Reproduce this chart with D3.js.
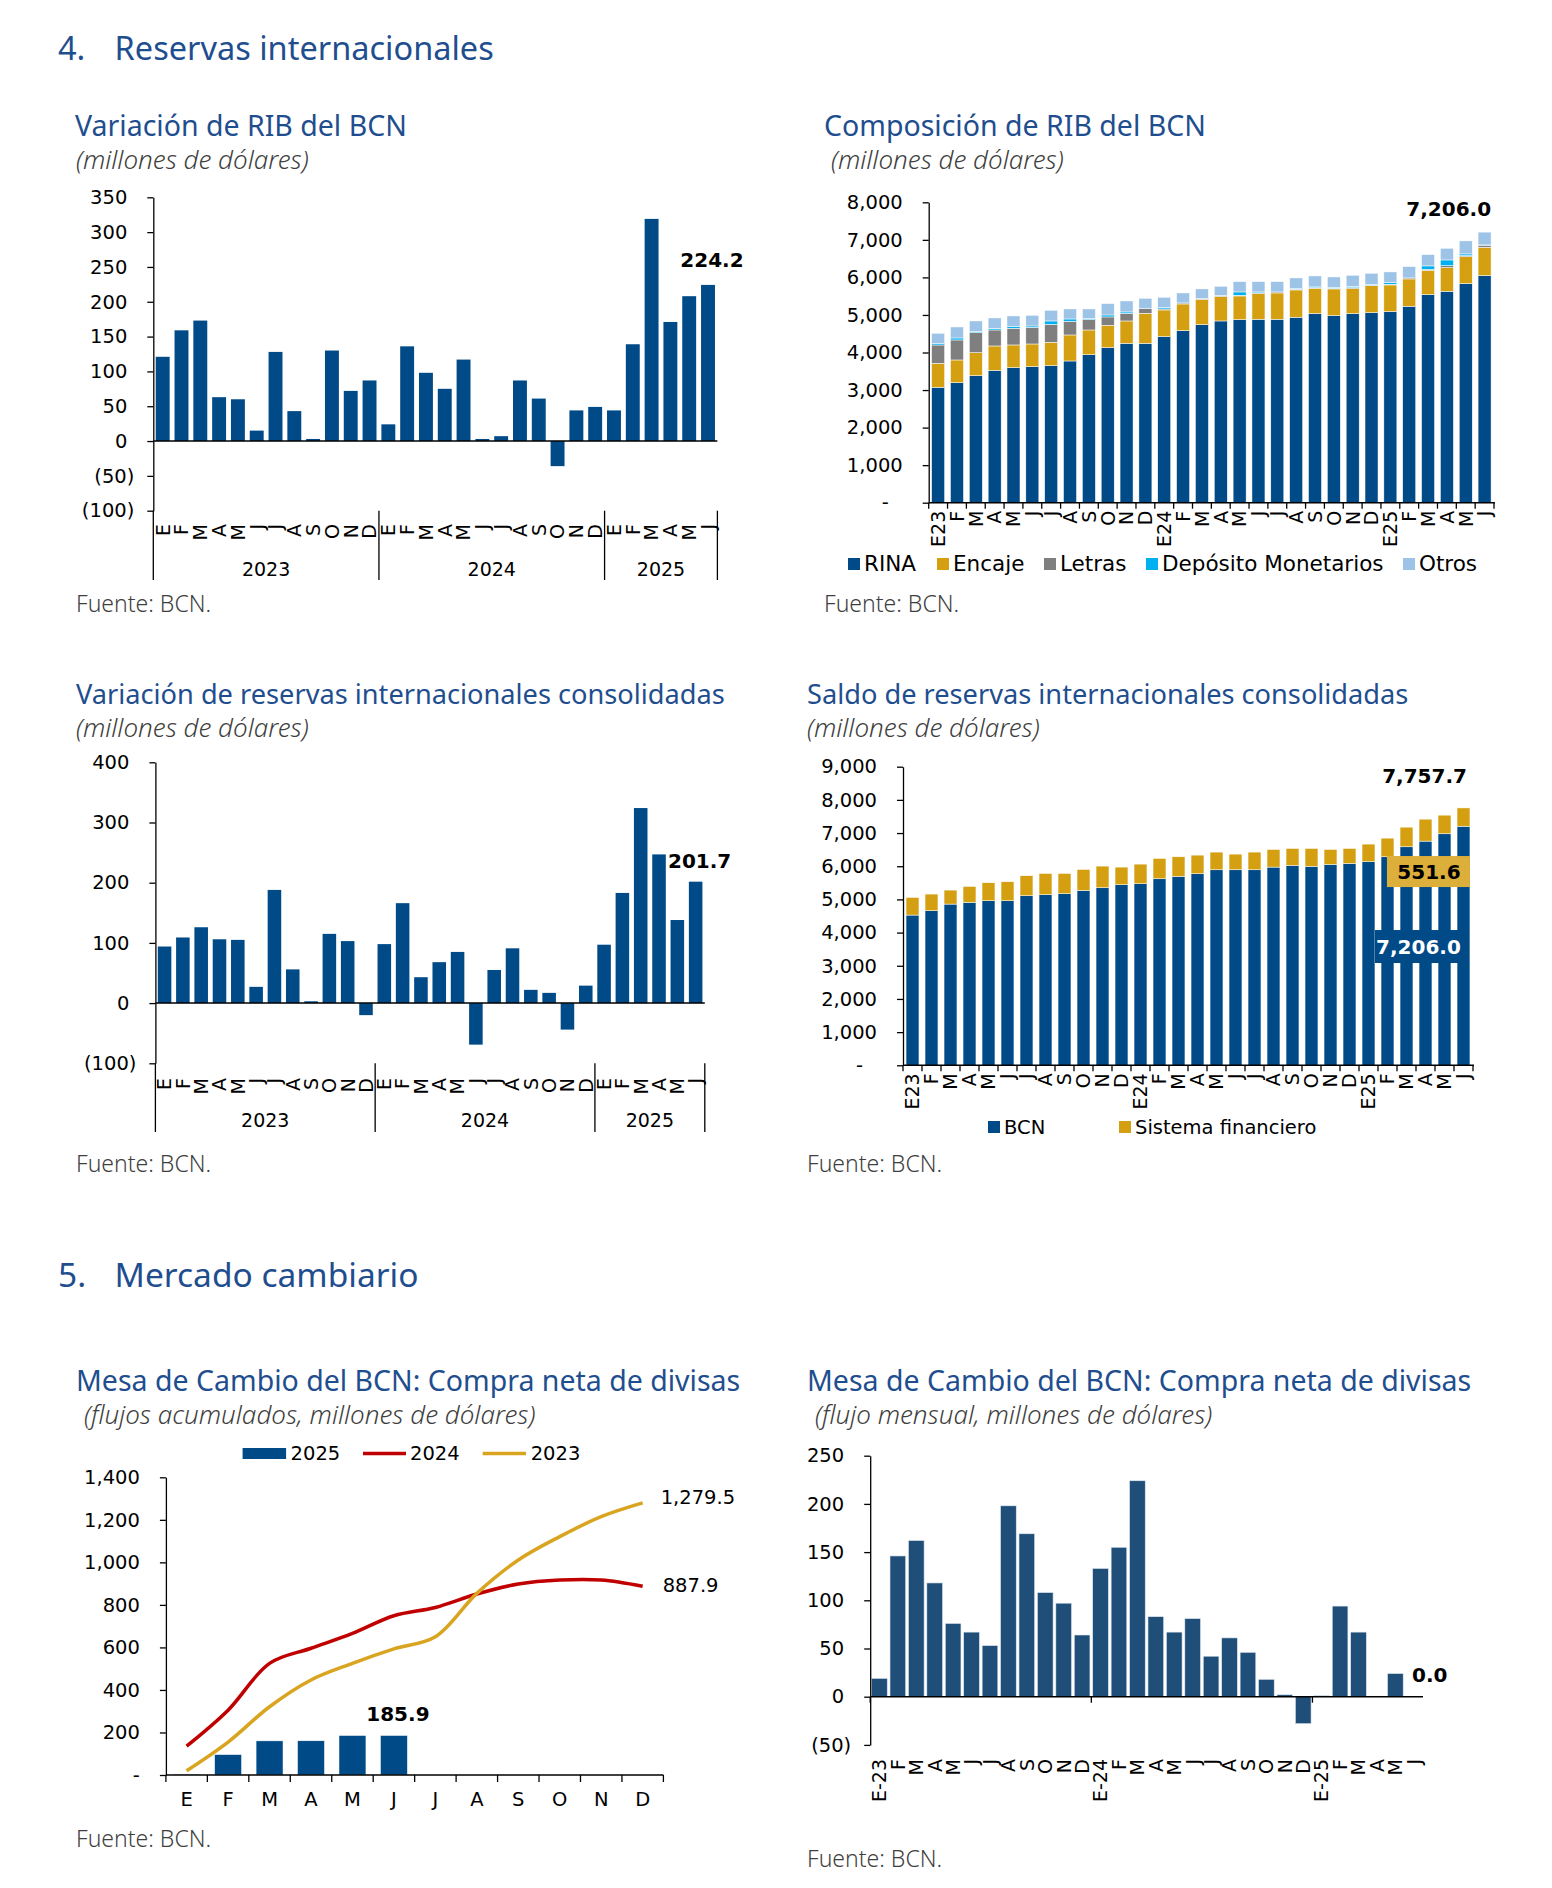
<!doctype html>
<html>
<head>
<meta charset="utf-8">
<script src="https://cdn.jsdelivr.net/npm/d3@7"></script>
<style>
  body { margin: 0; background: #fff; }
  text { font-family: "DejaVu Sans", sans-serif; }
</style>
</head>
<body>
<svg width="1552" height="1888"></svg>
<script>
// ---- datos ----
var mesesCorto = ["E","F","M","A","M","J","J","A","S","O","N","D","E","F","M","A","M","J","J","A","S","O","N","D","E","F","M","A","M","J"];
var periodos = ["E23","F","M","A","M","J","J","A","S","O","N","D","E24","F","M","A","M","J","J","A","S","O","N","D","E25","F","M","A","M","J"];
var periodosGuion = ["E-23","F","M","A","M","J","J","A","S","O","N","D","E-24","F","M","A","M","J","J","A","S","O","N","D","E-25","F","M","A","M","J"];
var anios = ["2023","2024","2025"];
var mesesAnio = ["E","F","M","A","M","J","J","A","S","O","N","D"];

// Variación de RIB del BCN
var varRIB = [121,159,173,63,60,15,128,43,3,130,72,87,24,136,98,75,117,3,7,87,61,-36,44,49,44,139,319,171,208,224.2];
// Composición de RIB
var rina = [3073,3197,3384,3526,3597,3623,3650,3774,3943,4130,4245,4245,4423,4583,4742,4840,4876,4885,4885,4938,5036,4982,5036,5062,5089,5231,5542,5631,5835,6048];
var encaje = [639,604,612,648,604,604,622,693,657,595,595,799,710,710,675,648,630,683,701,728,674,711,666,720,710,728,648,630,719,755];
var letras = [488,533,533,426,444,444,479,364,276,222,204,125,27,27,18,18,18,18,27,18,18,17,26,8,18,27,27,53,27,53];
var depositos = [45,53,36,36,44,36,89,62,26,53,36,0,35,0,0,9,89,27,0,18,18,18,27,18,44,0,89,151,44,9];
var otros = [267,293,275,284,284,284,284,267,258,302,293,275,276,266,258,249,275,275,275,284,293,284,302,302,285,302,301,311,347,341];
var totalRIB = [7206.0];
// Variación de reservas consolidadas
var varRIC = [94,109,126,106,105,27,188,56,3,115,103,-20,98,166,43,68,85,-69,55,91,22,17,-44,29,97,183,324,247,138,201.7];
// Saldo de reservas consolidadas
var saldoBCN = [4528,4659,4859,4910,4960,4960,5110,5141,5171,5271,5351,5442,5472,5622,5693,5773,5893,5893,5893,5974,6024,5994,6054,6084,6135,6285,6586,6757,6978,7206.0];
var sistemaFin = [532,502,422,482,542,572,603,642,612,633,653,532,592,613,592,562,533,472,533,532,512,542,452,452,532,562,592,662,562,551.6];
var totalSaldo = [7757.7];
// Mesa de cambio: acumulado
var acum2025 = [4,96,160.5,160.9,185.9,185.9];
var acum2024 = [136,305,525,596,666,749,788,851,898,917,917,887.9];
var acum2023 = [20,155,321,447,525,593,650,854,1011,1121,1215,1279.5];
// Mesa de cambio: flujo mensual
var compraMensual = [19,146,162,118,76,67,53,198,169,108,97,64,133,155,224,83,67,81,42,61,46,18,2,-28,1,94,67,0.6,24,0.0];

// ---- estilos ----
var svg = d3.select("svg");
var AZUL = "#004a87", AZUL6 = "#1f4e79", ORO = "#d4a012", TIT = "#1f4e8f", GRIS = "#3f3f3f";
var fmtMil = d3.format(",");
var fmt1 = d3.format(",.1f");

function fmtCont(v, cero) {
    if (v === 0) return cero;
    return v < 0 ? "(" + fmtMil(-v) + ")" : fmtMil(v);
}

function encabezado(y, num, txt, size) {
    svg.append("text").attr("x", 58).attr("y", y).text(num)
        .style("font-family", "Noto Sans").style("font-size", size + "px").attr("fill", TIT);
    svg.append("text").attr("x", 114.6).attr("y", y).text(txt)
        .style("font-family", "Noto Sans").style("font-size", size + "px").attr("fill", TIT);
}

function titulos(x, y, t, sx, sub, fx, fy, size) {
    svg.append("text").attr("x", x).attr("y", y).text(t)
        .style("font-family", "Noto Sans").style("font-size", (size || 28) + "px").attr("fill", TIT);
    svg.append("text").attr("x", sx).attr("y", y + 33).text(sub)
        .style("font-family", "Noto Sans").style("font-style", "italic").style("font-weight", 300)
        .style("font-size", "26px").attr("fill", GRIS);
    svg.append("text").attr("x", fx).attr("y", fy).text("Fuente: BCN.")
        .style("font-family", "Noto Sans").style("font-weight", 300)
        .style("font-size", "23px").attr("fill", GRIS);
}

function ejeY(x0, y, ticks, cero, ceroOff) {
    var g = svg.append("g").attr("transform", "translate(" + x0 + ",0)")
        .call(d3.axisLeft(y).tickValues(ticks).tickSize(6).tickSizeOuter(0)
            .tickFormat(function(d) { return fmtCont(d, cero); }));
    g.select(".domain").attr("stroke", "#000").attr("stroke-width", 1.3);
    g.selectAll(".tick line").attr("stroke", "#000").attr("stroke-width", 1.3);
    g.selectAll(".tick text")
        .attr("x", function(d) { return d < 0 ? -19 : (d === 0 ? ceroOff : -26); })
        .style("font-family", "DejaVu Sans").style("font-size", "19.5px").attr("fill", "#000");
    return g;
}

function etiquetasRotadas(x, yTop, yBase, labels) {
    var g = svg.append("g").attr("transform", "translate(0," + yBase + ")")
        .call(d3.axisBottom(x).tickSize(0).tickFormat(function(i) { return labels[i]; }));
    g.select(".domain").remove();
    g.selectAll("text")
        .attr("transform", "rotate(-90)")
        .attr("x", -(yTop - yBase)).attr("y", 0).attr("dy", "0.36em")
        .style("text-anchor", "end")
        .style("font-family", "DejaVu Sans").style("font-size", "19px").attr("fill", "#000");
}

function valor(x, y, t, anchor) {
    return svg.append("text").attr("x", x).attr("y", y).text(t)
        .attr("text-anchor", anchor || "middle")
        .style("font-family", "DejaVu Sans").style("font-weight", "bold")
        .style("font-size", "20px").attr("fill", "#000");
}

// ---- variación (gráficos 1 y 3) ----
function grafVariacion(o) {
    var x = d3.scaleBand().domain(d3.range(o.datos.length)).range([o.x0, o.x1])
        .paddingInner(o.pad).paddingOuter(o.pad / 2);
    var y = d3.scaleLinear().domain(o.dom).range(o.yr);

    svg.append("g").selectAll("rect").data(o.datos).enter().append("rect")
        .attr("x", function(d, i) { return x(i); })
        .attr("width", x.bandwidth())
        .attr("y", function(d) { return y(Math.max(0, d)); })
        .attr("height", function(d) { return Math.abs(y(d) - y(0)); })
        .attr("fill", AZUL);

    ejeY(o.x0, y, o.ticks, "0", -26);
    svg.append("line").attr("x1", o.x0).attr("x2", o.x1).attr("y1", y(0)).attr("y2", y(0))
        .attr("stroke", "#000").attr("stroke-width", 1.5);

    etiquetasRotadas(x, o.mesTop, y(o.dom[0]), mesesCorto);

    // separadores de años
    var paso = x.step();
    [0, 12, 24, 30].forEach(function(k) {
        svg.append("line").attr("x1", o.x0 + k * paso).attr("x2", o.x0 + k * paso)
            .attr("y1", y(o.dom[0])).attr("y2", o.sepBottom)
            .attr("stroke", "#000").attr("stroke-width", 1.3);
    });
    anios.forEach(function(a, k) {
        var ini = k * 12, fin = Math.min(ini + 12, 30);
        svg.append("text").attr("x", o.x0 + (ini + fin) / 2 * paso).attr("y", o.anioY)
            .attr("text-anchor", "middle").text(a)
            .style("font-family", "DejaVu Sans").style("font-size", "19px");
    });

    var n = o.datos.length - 1;
    valor(x(n) + x.bandwidth() / 2 + 4, y(o.datos[n]) - o.labDy, o.datos[n].toFixed(1));
}

encabezado(60, "4.", "Reservas internacionales", 32.5);

titulos(75, 136, "Variación de RIB del BCN", 76, "(millones de dólares)", 76, 612, 28.5);
grafVariacion({
    datos: varRIB, x0: 153.3, x1: 717.4, pad: 0.26,
    dom: [-100, 350], yr: [510.7, 197.3], ticks: d3.range(-100, 351, 50),
    mesTop: 524, sepBottom: 580, anioY: 576, labDy: 18
});

titulos(76, 704, "Variación de reservas internacionales consolidadas", 76, "(millones de dólares)", 76, 1172, 27.2);
grafVariacion({
    datos: varRIC, x0: 155.4, x1: 704.8, pad: 0.26,
    dom: [-100, 400], yr: [1063.3, 762.3], ticks: d3.range(-100, 401, 100),
    mesTop: 1078, sepBottom: 1132, anioY: 1127, labDy: 14
});

// ---- apilados (gráficos 2 y 4) ----
function grafApilado(o) {
    var n = o.series[0].datos.length;
    var tabla = d3.range(n).map(function(i) {
        var fila = { i: i };
        o.series.forEach(function(s) { fila[s.nombre] = s.datos[i]; });
        return fila;
    });
    var claves = o.series.map(function(s) { return s.nombre; });
    var capas = d3.stack().keys(claves)(tabla);

    var x = d3.scaleBand().domain(d3.range(n)).range([o.x0, o.x1])
        .paddingInner(o.pad).paddingOuter(o.pad / 2);
    var y = d3.scaleLinear().domain(o.dom).range(o.yr);

    svg.append("g").selectAll("g").data(capas).enter().append("g")
        .attr("fill", function(d, k) { return o.series[k].color; })
        .selectAll("rect").data(function(d) { return d; }).enter().append("rect")
        .attr("x", function(d) { return x(d.data.i); })
        .attr("width", x.bandwidth())
        .attr("y", function(d) { return y(d[1]); })
        .attr("height", function(d) { return y(d[0]) - y(d[1]); })
        .attr("stroke", "#fff").attr("stroke-width", 0.5);

    ejeY(o.x0, y, d3.range(0, o.dom[1] + 1, 1000), "-", -40);
    svg.append("line").attr("x1", o.x0).attr("x2", o.x1 + 1).attr("y1", y(0)).attr("y2", y(0))
        .attr("stroke", "#000").attr("stroke-width", 1.5);
    d3.range(n + 1).forEach(function(k) {
        var xx = o.x0 + k * x.step();
        svg.append("line").attr("x1", xx).attr("x2", xx).attr("y1", y(0)).attr("y2", y(0) + 6)
            .attr("stroke", "#000").attr("stroke-width", 1.3);
    });
    etiquetasRotadas(x, y(0) + 8, y(0), periodos);

    // leyenda
    o.series.forEach(function(s, k) {
        var lx = o.leyX[k];
        svg.append("rect").attr("x", lx).attr("y", o.leyY - 6).attr("width", 12).attr("height", 12)
            .attr("fill", s.color);
        svg.append("text").attr("x", lx + 16).attr("y", o.leyY + 7).text(s.nombre)
            .style("font-family", "DejaVu Sans").style("font-size", o.leyFont + "px");
    });
    return { x: x, y: y };
}

titulos(824, 136, "Composición de RIB del BCN", 831, "(millones de dólares)", 824, 612, 28.5);
var g2 = grafApilado({
    series: [
        { nombre: "RINA", datos: rina, color: AZUL },
        { nombre: "Encaje", datos: encaje, color: ORO },
        { nombre: "Letras", datos: letras, color: "#7f7f7f" },
        { nombre: "Depósito Monetarios", datos: depositos, color: "#00b0f0" },
        { nombre: "Otros", datos: otros, color: "#9dc3e6" }
    ],
    x0: 928.7, x1: 1494, pad: 0.31, dom: [0, 8000], yr: [502.7, 202.3],
    leyX: [848, 937, 1044, 1146, 1403], leyY: 564, leyFont: 21.5
});
valor(g2.x(29) + g2.x.bandwidth(), g2.y(totalRIB[0]) - 16, fmt1(totalRIB[0]), "end");

titulos(807, 704, "Saldo de reservas internacionales consolidadas", 807, "(millones de dólares)", 807, 1172, 27.2);
var g4 = grafApilado({
    series: [
        { nombre: "BCN", datos: saldoBCN, color: AZUL },
        { nombre: "Sistema financiero", datos: sistemaFin, color: ORO }
    ],
    x0: 903, x1: 1473, pad: 0.32, dom: [0, 9000], yr: [1065.3, 766.7],
    leyX: [988, 1119], leyY: 1127, leyFont: 19.5
});
var ult = saldoBCN.length - 1;
var xr4 = g4.x(ult) + g4.x.bandwidth();
valor(xr4 - 3, g4.y(totalSaldo[0]) - 25, fmt1(totalSaldo[0]), "end");
// cajas de etiqueta
svg.append("rect").attr("x", xr4 - 83).attr("y", g4.y(5840) - 15.5).attr("width", 83).attr("height", 31)
    .attr("fill", "#dcae3a");
valor(xr4 - 41, g4.y(5840) + 7, fmt1(sistemaFin[ult]));
svg.append("rect").attr("x", xr4 - 95).attr("y", g4.y(3580) - 16.5).attr("width", 87).attr("height", 33)
    .attr("fill", AZUL);
valor(xr4 - 51.5, g4.y(3580) + 7.5, fmt1(saldoBCN[ult])).attr("fill", "#fff");

// ---- mercado cambiario ----
encabezado(1287, "5.", "Mercado cambiario", 33.5);

titulos(76, 1391, "Mesa de Cambio del BCN: Compra neta de divisas", 84, "(flujos acumulados, millones de dólares)", 76, 1847, 28.5);
(function() {
    var x = d3.scaleBand().domain(d3.range(12)).range([165.9, 663.4]).paddingInner(0.35).paddingOuter(0.175);
    var y = d3.scaleLinear().domain([0, 1400]).range([1775, 1477.3]);

    svg.append("g").selectAll("rect").data(acum2025).enter().append("rect")
        .attr("x", function(d, i) { return x(i); })
        .attr("width", x.bandwidth())
        .attr("y", function(d) { return y(d); })
        .attr("height", function(d) { return y(0) - y(d); })
        .attr("fill", AZUL).attr("stroke", "#fff").attr("stroke-width", 0.5);

    var linea = d3.line()
        .x(function(d, i) { return x(i) + x.bandwidth() / 2; })
        .y(function(d) { return y(d); })
        .curve(d3.curveCatmullRom.alpha(0.5));
    svg.append("path").datum(acum2024).attr("d", linea)
        .attr("fill", "none").attr("stroke", "#c00000").attr("stroke-width", 3.5);
    svg.append("path").datum(acum2023).attr("d", linea)
        .attr("fill", "none").attr("stroke", "#d9a520").attr("stroke-width", 3.5);

    ejeY(165.9, y, d3.range(0, 1401, 200), "-", -26);
    var gx = svg.append("g").attr("transform", "translate(0," + y(0) + ")")
        .call(d3.axisBottom(x).tickSize(0).tickFormat(function(i) { return mesesAnio[i]; }));
    gx.select(".domain").remove();
    gx.selectAll("text").attr("y", 1806 - y(0)).attr("dy", 0)
        .style("font-family", "DejaVu Sans").style("font-size", "19.5px");
    svg.append("line").attr("x1", 165.9).attr("x2", 663.4).attr("y1", y(0)).attr("y2", y(0))
        .attr("stroke", "#000").attr("stroke-width", 1.5);
    d3.range(13).forEach(function(k) {
        var xx = 165.9 + k * x.step();
        svg.append("line").attr("x1", xx).attr("x2", xx).attr("y1", y(0)).attr("y2", y(0) + 7)
            .attr("stroke", "#000").attr("stroke-width", 1.3);
    });

    var c = x.bandwidth() / 2;
    valor(x(5) + c + 4, y(acum2025[5]) - 14, acum2025[5].toFixed(1));
    svg.append("text").attr("x", x(11) + c + 18).attr("y", y(acum2023[11]) + 1).text(fmt1(acum2023[11]))
        .style("font-size", "19.5px");
    svg.append("text").attr("x", x(11) + c + 20).attr("y", y(acum2024[11]) + 6).text(fmt1(acum2024[11]))
        .style("font-size", "19.5px");

    // leyenda
    svg.append("rect").attr("x", 242.6).attr("y", 1448).attr("width", 43.5).attr("height", 11).attr("fill", AZUL);
    svg.append("text").attr("x", 290.6).attr("y", 1460).text("2025").style("font-size", "19.5px");
    svg.append("line").attr("x1", 363).attr("x2", 406).attr("y1", 1453.5).attr("y2", 1453.5)
        .attr("stroke", "#c00000").attr("stroke-width", 3.5);
    svg.append("text").attr("x", 410).attr("y", 1460).text("2024").style("font-size", "19.5px");
    svg.append("line").attr("x1", 482.7).attr("x2", 526).attr("y1", 1453.5).attr("y2", 1453.5)
        .attr("stroke", "#d9a520").attr("stroke-width", 3.5);
    svg.append("text").attr("x", 530.7).attr("y", 1460).text("2023").style("font-size", "19.5px");
})();

titulos(807, 1391, "Mesa de Cambio del BCN: Compra neta de divisas", 815, "(flujo mensual, millones de dólares)", 807, 1867, 28.5);
(function() {
    var x = d3.scaleBand().domain(d3.range(compraMensual.length)).range([870.2, 1423])
        .paddingInner(0.15).paddingOuter(0.075);
    var y = d3.scaleLinear().domain([-50, 250]).range([1744.9, 1455.7]);

    svg.append("g").selectAll("rect").data(compraMensual).enter().append("rect")
        .attr("x", function(d, i) { return x(i); })
        .attr("width", x.bandwidth())
        .attr("y", function(d) { return y(Math.max(0, d)); })
        .attr("height", function(d) { return Math.abs(y(d) - y(0)); })
        .attr("fill", AZUL6).attr("stroke", "#dfe6ee").attr("stroke-width", 0.6);

    ejeY(870.2, y, d3.range(-50, 251, 50), "0", -26);
    svg.append("line").attr("x1", 870.2).attr("x2", 1423).attr("y1", y(0)).attr("y2", y(0))
        .attr("stroke", "#000").attr("stroke-width", 1.5);
    [0, 12, 24].forEach(function(k) {
        var xx = 870.2 + k * x.step();
        svg.append("line").attr("x1", xx).attr("x2", xx).attr("y1", y(0)).attr("y2", y(0) + 6)
            .attr("stroke", "#000").attr("stroke-width", 1.3);
    });
    etiquetasRotadas(x, 1759, y(0), periodosGuion);

    var n = compraMensual.length - 1;
    valor(x(n) + x.bandwidth() / 2 + 16, y(compraMensual[n]) - 15, compraMensual[n].toFixed(1));
})();
</script>
</body>
</html>
